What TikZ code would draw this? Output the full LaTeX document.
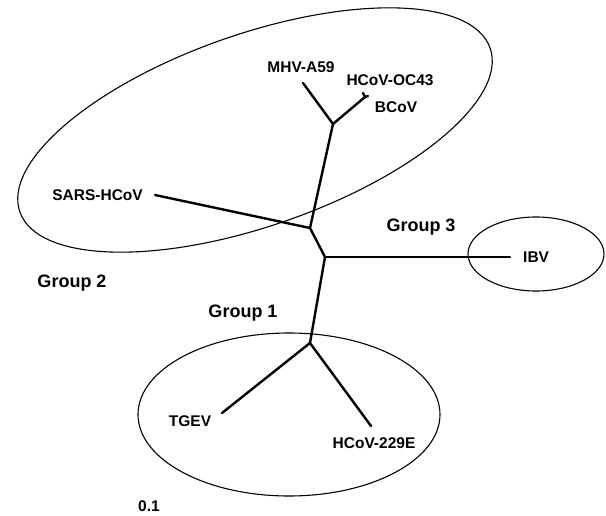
\documentclass[tikz,border=0pt]{standalone}
\usepackage{fontspec}
\setmainfont{Liberation Sans}
\usepackage{tikz}
\usetikzlibrary{positioning}

\begin{document}
\begin{tikzpicture}[x=1pt,y=-1pt,
                    branch/.style={line width=2.4pt,line cap=round,line join=round},
                    clade/.style={line width=1.1pt},
                    taxon/.style={inner sep=0pt,font=\fontsize{15.5}{18}\selectfont\bfseries},
                    group/.style={inner sep=0pt,font=\fontsize{18}{21}\selectfont\bfseries}]

\useasboundingbox (0,0) rectangle (606,516);

% inner junctions and tips
\coordinate (jA) at (333,124);
\coordinate (jB) at (310,228);
\coordinate (jC) at (325,257);
\coordinate (jD) at (310,343);
\coordinate (jBC) at (365,97);
\coordinate (tMHV) at (303,83);
\coordinate (tOC43) at (363,93);
\coordinate (tBCoV) at (368,96);
\coordinate (tSARS) at (155,195);
\coordinate (tIBV) at (510,257);
\coordinate (tTGEV) at (222,413);
\coordinate (t229E) at (371,426);

% groups
\draw[clade,rotate around={19.2:(255,130)}] (255,130) ellipse [x radius=249pt,y radius=96pt];
\draw[clade] (536,254) ellipse [x radius=68pt,y radius=37pt];
\draw[clade] (289,414.5) ellipse [x radius=151pt,y radius=81.5pt];

% tree
\draw[branch] (tMHV) -- (jA) -- (jB) -- (jC) -- (jD) -- (tTGEV);
\draw[branch] (jA) -- (jBC) -- (tOC43);
\draw[branch] (jBC) -- (tBCoV);
\draw[branch] (jB) -- (tSARS);
\draw[branch] (jC) -- (tIBV);
\draw[branch] (jD) -- (t229E);

% labels
\node[taxon,above=10pt of tMHV,xshift=-2pt] (MHV) {MHV-A59};
\node[taxon] (OC43) at (390,80) {HCoV-OC43};
\node[taxon] (BCoV) at (396,107) {BCoV};
\node[taxon,left=12pt of tSARS] (SARS) {SARS-HCoV};
\node[taxon,right=13pt of tIBV] (IBV) {IBV};
\node[taxon] (TGEV) at (190,421) {TGEV};
\node[taxon,below=11pt of t229E,xshift=3pt] (HCoV229E) {HCoV-229E};

\node[group] (g2) at (72,283) {Group 2};
\node[group] (g1) at (243,313) {Group 1};
\node[group] (g3) at (421,227) {Group 3};
\node[taxon] (scale) at (149,506) {0.1};

\end{tikzpicture}
\end{document}
